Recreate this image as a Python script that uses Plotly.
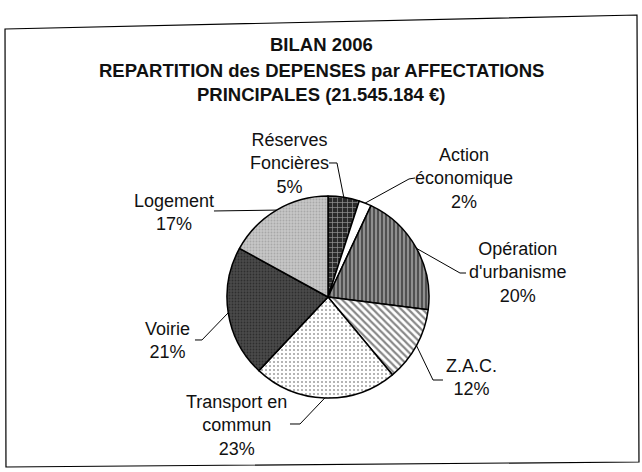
import numpy as np
import plotly.graph_objects as go

# Data (clockwise from 12 o'clock)
categories = ["Réserves Foncières", "Action économique", "Opération d'urbanisme",
              "Z.A.C.", "Transport en commun", "Voirie", "Logement"]
shares = [5, 2, 20, 12, 23, 21, 17]
label_texts = ["Réserves<br>Foncières<br>5%", "Action<br>économique<br>2%",
               "Opération<br>d'urbanisme<br>20%", "Z.A.C.<br>12%",
               "Transport en<br>commun<br>23%", "Voirie<br>21%", "Logement<br>17%"]
title_lines = ["BILAN 2006", "REPARTITION des DEPENSES par AFFECTATIONS",
               "PRINCIPALES (21.545.184 €)"]

W, H = 642, 472
cx, cy, r = 328, 297, 101  # pie centre / radius in pixels

# slice fills: background colour + pattern
fills = ["#2a2a2a", "#ffffff", "#8f8f8f", "#ffffff", "#ffffff", "#4a4a4a", "#c6c6c6"]
shapes_pat = ["+", "", "|", "\\", ".", ".", "."]
fg = ["#ffffff", "#000000", "#111111", "#111111", "#444444", "#111111", "#8a8a8a"]
pat_size = [5, 4, 4, 5, 4, 3, 3]
solid = [0.25, 0.3, 0.5, 0.45, 0.22, 0.3, 0.3]

# label text centres (px) and the elbow of each leader line (px)
label_pos = [(289, 164), (464, 178), (518, 272), (471, 377),
             (236, 425), (168, 340), (174, 212)]
leader_ends = [[(329, 163), (337, 163)], [(415, 178), (409, 179)],
               [(466, 273), (460, 273)], [(443, 380), (433, 380)],
               [(290, 424), (300, 424)], [(195, 340), (202, 340)],
               [(214, 211)]]
title_pos = [(321, 45), (321, 71), (322, 94)]
frame = [(5, 29), (637, 15), (639, 462), (6, 467)]


def px(x, y):
    return x / W, 1 - y / H


fig = go.Figure(go.Pie(
    labels=categories, values=shares, sort=False, direction="clockwise",
    rotation=0, textinfo="none", hoverinfo="label+percent",
    marker=dict(colors=fills, line=dict(color="#000000", width=1.5),
                pattern=dict(shape=shapes_pat, fgcolor=fg, size=pat_size,
                             solidity=solid, fillmode="overlay")),
    domain=dict(x=[(cx - r) / W, (cx + r) / W], y=[1 - (cy + r) / H, 1 - (cy - r) / H]),
    showlegend=False,
))

# leader lines: from label elbow to the middle of each slice edge
vals = np.array(shares, dtype=float)
cum = np.cumsum(vals)
mid = (cum - vals / 2) / vals.sum() * 2 * np.pi
shapes = []
for k, a in enumerate(mid):
    ex, ey = cx + r * np.sin(a), cy - r * np.cos(a)
    pts = leader_ends[k] + [(ex, ey)]
    path = "M " + " L ".join("%.4f,%.4f" % px(x, y) for x, y in pts)
    shapes.append(dict(type="path", path=path, xref="paper", yref="paper",
                       line=dict(color="#000000", width=1)))

# outer frame (the scan is slightly skewed)
shapes.append(dict(type="path", xref="paper", yref="paper",
                   path="M " + " L ".join("%.4f,%.4f" % px(x, y) for x, y in frame) + " Z",
                   line=dict(color="#000000", width=1.2)))

annotations = []
for (x, y), t in zip(label_pos, label_texts):
    ax_, ay_ = px(x, y)
    annotations.append(dict(x=ax_, y=ay_, xref="paper", yref="paper", text=t,
                            showarrow=False, xanchor="center", yanchor="middle",
                            font=dict(size=18, color="#111111")))

for t, (x, y) in zip(title_lines, title_pos):
    ax_, ay_ = px(x, y)
    annotations.append(dict(x=ax_, y=ay_, xref="paper", yref="paper",
                            text="<b>%s</b>" % t, showarrow=False,
                            xanchor="center", yanchor="middle",
                            font=dict(size=18.5, color="#111111")))

fig.update_layout(
    width=W, height=H, margin=dict(l=0, r=0, t=0, b=0),
    paper_bgcolor="#ffffff", plot_bgcolor="#ffffff",
    font=dict(family="Liberation Sans, Arial, sans-serif"),
    shapes=shapes, annotations=annotations,
)

fig.write_html("out.html", config={"displayModeBar": False},
               post_script="document.body.style.margin='0';")
